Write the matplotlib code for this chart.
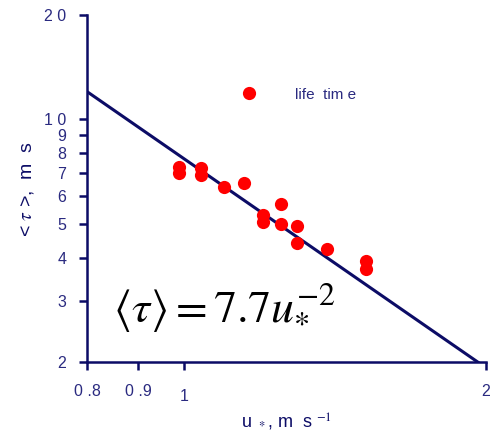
import matplotlib
matplotlib.use("Agg")
import matplotlib.pyplot as plt
import numpy as np

# Data
u_star = [0.988, 0.988, 1.04, 1.04, 1.095, 1.147, 1.198, 1.198, 1.249, 1.249,
          1.296, 1.296, 1.388, 1.518, 1.518]
tau = [7.30, 7.01, 7.25, 6.92, 6.39, 6.56, 5.30, 5.06, 5.71, 5.00,
       4.93, 4.41, 4.23, 3.91, 3.71]
fit_coef = 7.7
fit_exp = -2.0
x_ticks = [0.8, 0.9, 1, 2]
x_tick_labels = ["0 .8", "0 .9", "1", "2"]
y_ticks = [2, 3, 4, 5, 6, 7, 8, 9, 10, 20]
y_tick_labels = ["2", "3", "4", "5", "6", "7", "8", "9", "1 0", "2 0"]

navy = "#0c0c66"
label_col = "#2a2a80"
font = 'Liberation Sans'

plt.rcParams['mathtext.fontset'] = 'stix'
fig = plt.figure(figsize=(4.91, 4.33), dpi=100)
ax = fig.add_axes([87/491, 1 - 362/433, (486-87)/491, (362-15)/433])
ax.set_xscale('log')
ax.set_yscale('log')
ax.set_xlim(0.8, 2)
ax.set_ylim(2, 20)

ax.plot(u_star, tau, 'o', color='#ff0000', markersize=9.5, markeredgewidth=0,
        label='life  tim e', zorder=3)
xf = np.linspace(0.8, 2, 200)
ax.plot(xf, fit_coef * xf ** fit_exp, color=navy, lw=2.2, zorder=2)

for s in ['top', 'right']:
    ax.spines[s].set_visible(False)
for s in ['left', 'bottom']:
    ax.spines[s].set_color(navy)
    ax.spines[s].set_linewidth(1.8)

ax.minorticks_off()
ax.set_xticks(x_ticks)
ax.set_xticklabels(x_tick_labels)
ax.set_yticks(y_ticks)
ax.set_yticklabels(y_tick_labels)
ax.tick_params(direction='out', length=6, width=1.8, color=navy,
               labelcolor=label_col, labelsize=11.5)
ax.tick_params(axis='x', pad=10)
ax.tick_params(axis='y', pad=9)
for lab in ax.get_xticklabels() + ax.get_yticklabels():
    lab.set_fontfamily(font)
# "1" label sits lower in the reference
ax.get_xticklabels()[2].set_y(-0.015)

ax.set_ylabel(r'< $\tau$ >,  m  s', color=navy, fontsize=14,
              fontfamily=font, labelpad=6)
ax.set_xlabel(r'u $_*$, m  s $^{-1}$', color=navy, fontsize=13,
              fontfamily=font, labelpad=5)

leg = ax.legend(loc='upper left', bbox_to_anchor=(0.333, 0.83), frameon=False,
                handletextpad=2.0, prop={'family': font, 'size': 11})
for t in leg.get_texts():
    t.set_color(label_col)

ax.text(0.065, 0.12, r'$\langle\tau\rangle = 7.7u_{*}^{-2}$', transform=ax.transAxes,
        fontsize=33, color='black')

fig.savefig('out.png', dpi=100)
